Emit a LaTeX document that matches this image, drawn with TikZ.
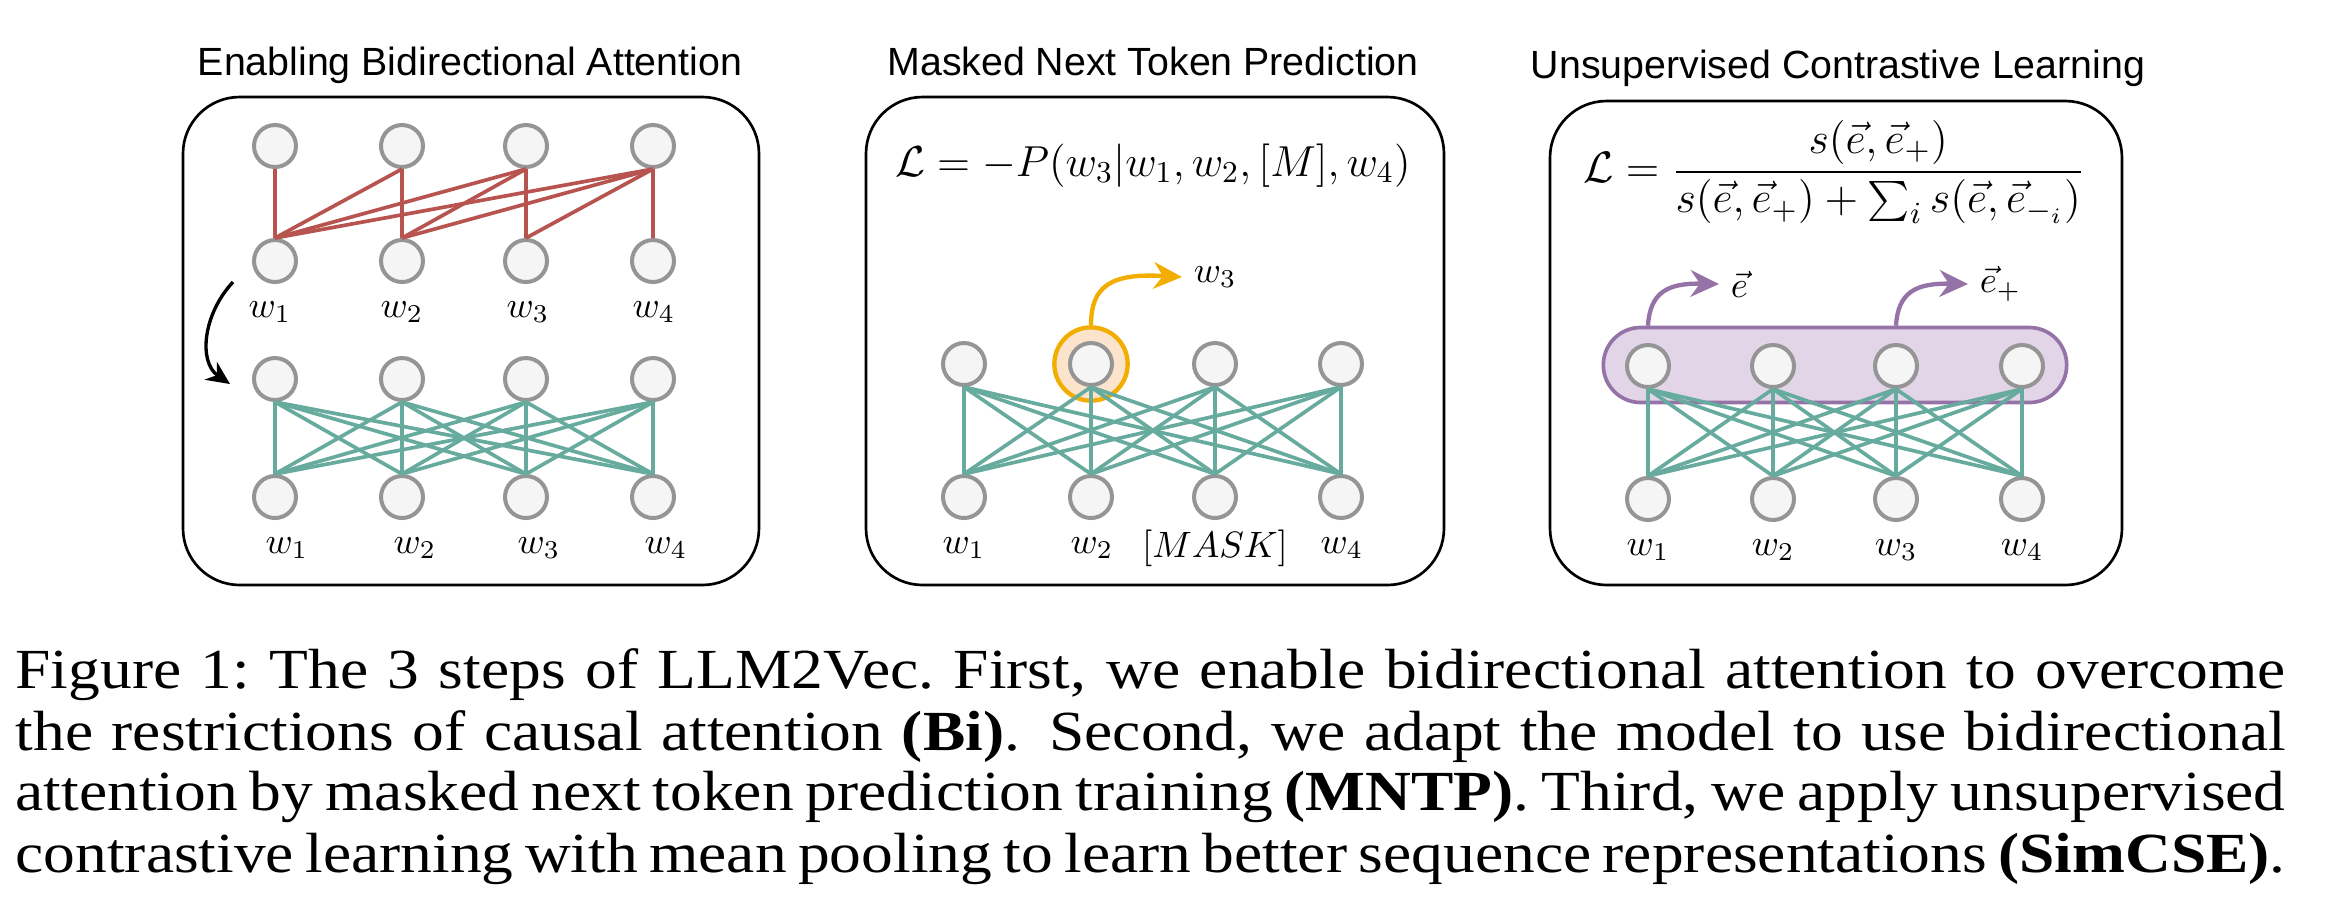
\RequirePackage{fix-cm}
\documentclass[tikz,border=0pt]{standalone}
\usepackage{fontspec}
\setsansfont{Liberation Sans}
\newfontfamily\capserif[FakeStretch=1.12]{Liberation Serif}
\usepackage{amsmath}
\usepackage{tikz}
\usetikzlibrary{arrows.meta, positioning}
\definecolor{edgered}{HTML}{B85450}
\definecolor{edgegreen}{HTML}{67AB9F}
\definecolor{nodegray}{HTML}{959595}
\definecolor{nodefill}{HTML}{F5F5F5}
\definecolor{hlorange}{HTML}{F2AE00}
\definecolor{hlfill}{HTML}{FCE4CC}
\definecolor{poolpurple}{HTML}{9673A6}
\definecolor{poolfill}{HTML}{E1D5E7}
\newcommand{\capfont}{\capserif\fontsize{17}{18.3}\selectfont}

\begin{document}
\begin{tikzpicture}[x=0.3pt, y=-0.3pt,
	tok/.style={circle, draw=nodegray, fill=nodefill, line width=1.2pt, minimum size=12.6pt, inner sep=0pt},
	redline/.style={edgered, line width=1.1pt},
	greenline/.style={edgegreen, line width=1.1pt},
	panel/.style={draw, line width=0.8pt, rounded corners=17pt},
	title/.style={font=\sffamily\fontsize{11.8}{13}\selectfont, anchor=base},
	lbl/.style={font=\fontsize{11}{13}\selectfont}]
	\useasboundingbox (0,0) rectangle (2337,907);

	% Enabling Bidirectional Attention
	\draw[panel] (183,97) rectangle (759,585);
	\node[title] (bititle) at (470,75) {Enabling Bidirectional Attention};
	\foreach \i/\x in {1/275, 2/402, 3/526, 4/653} {
		\node[tok] (a\i) at (\x,146) {};
		\node[tok] (b\i) at (\x,261) {};
		\node[tok] (c\i) at (\x,379) {};
		\node[tok] (d\i) at (\x,497) {};
	}
	\foreach \j in {1,...,4}
		\foreach \i in {1,...,\j}
			\draw[redline] (a\j.south) -- (b\i.north);
	\foreach \i in {1,...,4}
		\foreach \j in {1,...,4}
			\draw[greenline] (c\i.south) -- (d\j.north);
	\foreach \i/\x in {1/270, 2/402, 3/528, 4/654}
		\node[lbl] (bw\i) at (\x,312) {$w_\i$};
	\foreach \i/\x in {1/287, 2/415, 3/539, 4/666}
		\node[lbl] (dw\i) at (\x,548) {$w_\i$};
	\coordinate (turnin) at (233,282);
	\coordinate (turnout) at (230,384);
	\draw[line width=1pt, -{Stealth[length=7pt,width=6.5pt]}] (turnin) .. controls (203,314) and (198,362) .. (turnout);

	% Masked Next Token Prediction
	\draw[panel] (866,97) rectangle (1444,585);
	\node[title] (mntptitle) at (1153,75) {Masked Next Token Prediction};
	\node[anchor=base, font=\fontsize{13}{15}\selectfont] (mntploss) at (1153,176) {$\mathcal{L} = -P(w_3|w_1, w_2, [M], w_4)$};
	\node[circle, draw=hlorange, fill=hlfill, line width=1.3pt, minimum size=22pt] (hl) at (1091,364) {};
	\foreach \i/\x in {1/964, 2/1091, 3/1215, 4/1341} {
		\node[tok] (m\i) at (\x,364) {};
		\node[tok] (n\i) at (\x,497) {};
	}
	\foreach \i in {1,...,4}
		\foreach \j in {1,...,4}
			\draw[greenline] (m\i.south) -- (n\j.north);
	\node[lbl] (nw1) at (964,548) {$w_1$};
	\node[lbl] (nw2) at (1092,548) {$w_2$};
	\node[lbl] (nw3) at (1215,548) {$[MASK]$};
	\node[lbl] (nw4) at (1342,548) {$w_4$};
	\node[lbl, anchor=west] (mout) at (1182,277) {$w_3$};
	\draw[hlorange, line width=1.3pt, -{Stealth[length=8.5pt,width=8pt]}] (hl.north) .. controls (1091,285) and (1112,273) .. (mout.west);

	% Unsupervised Contrastive Learning
	\draw[panel] (1550,101) rectangle (2122,585);
	\node[title] (cltitle) at (1838,78) {Unsupervised Contrastive Learning};
	\node[font=\fontsize{13.2}{15}\selectfont] (clloss) at (1834,172) {$\mathcal{L} = \dfrac{s(\vec{e},\vec{e}_+)}{s(\vec{e},\vec{e}_+) + \sum_i s(\vec{e},\vec{e}_{-_i})}$};
	\node[draw=poolpurple, fill=poolfill, line width=1.1pt, rounded corners=11.2pt, minimum width=139pt, minimum height=22.5pt] (pool) at (1835,365) {};
	\foreach \i/\x in {1/1648, 2/1773, 3/1896, 4/2022} {
		\node[tok] (u\i) at (\x,366) {};
		\node[tok] (v\i) at (\x,499) {};
		\node[lbl] (vw\i) at (\x,550) {$w_\i$};
	}
	\foreach \i in {1,...,4}
		\foreach \j in {1,...,4}
			\draw[greenline] (u\i.south) -- (v\j.north);
	\node[lbl, anchor=west] (eout) at (1719,284) {$\vec{e}$};
	\node[lbl, anchor=west] (eplus) at (1968,284) {$\vec{e}_+$};
	\draw[poolpurple, line width=1.3pt, -{Stealth[length=8.5pt,width=8pt]}] (u1 |- pool.north) .. controls (1650,292) and (1668,283) .. (eout.west);
	\draw[poolpurple, line width=1.3pt, -{Stealth[length=8.5pt,width=8pt]}] (u3 |- pool.north) .. controls (1898,292) and (1916,283) .. (eplus.west);

	% caption
	\node[anchor=base west, inner sep=0pt, font=\capfont] (cap1) at (15,688) {\makebox[681pt][s]{Figure 1:\ The 3 steps of LLM2Vec.\ First, we enable bidirectional attention to overcome}};
	\node[anchor=base west, inner sep=0pt, font=\capfont] (cap2) at (15,750) {\makebox[681pt][s]{the restrictions of causal attention \textbf{(Bi)}. Second, we adapt the model to use bidirectional}};
	\node[anchor=base west, inner sep=0pt, font=\capfont] (cap3) at (15,810) {\makebox[681pt][s]{attention by masked next token prediction training \textbf{(MNTP)}. Third, we apply unsupervised}};
	\node[anchor=base west, inner sep=0pt, font=\capfont] (cap4) at (15,872) {\makebox[681pt][s]{contrastive learning with mean pooling to learn better sequence representations \textbf{(SimCSE)}.}};
\end{tikzpicture}
\end{document}
